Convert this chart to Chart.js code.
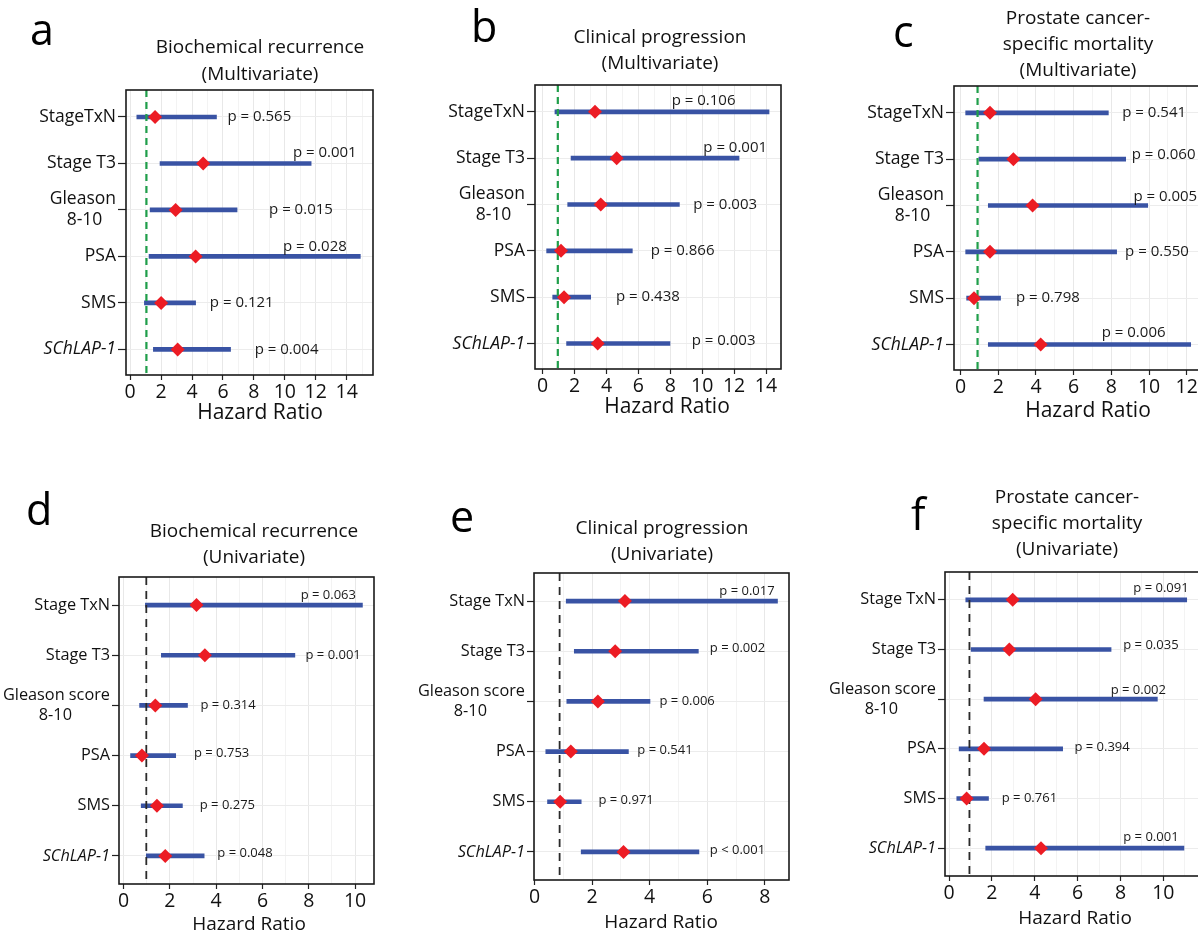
<!DOCTYPE html>
<html>
<head>
<meta charset="utf-8">
<script src="https://cdn.jsdelivr.net/npm/chart.js@4.4.1/dist/chart.umd.min.js"></script>
<style>
html, body { margin:0; padding:0; overflow:hidden; background:#fff; width:1198px; height:934px; }
canvas { position:absolute; }
</style>
</head>
<body>
<canvas id="pa"></canvas>
<canvas id="pb"></canvas>
<canvas id="pc"></canvas>
<canvas id="pd"></canvas>
<canvas id="pe"></canvas>
<canvas id="pf"></canvas>
<script>
var FONT = '"Open Sans", "Noto Sans", sans-serif';

// row labels (top = multivariate, bottom = univariate)
var rowsMulti = ['StageTxN', 'Stage T3', ['Gleason', '8-10   '], 'PSA', 'SMS', 'SChLAP-1'];
var rowsUni = ['Stage TxN', 'Stage T3', ['Gleason score', '8-10         '], 'PSA', 'SMS', 'SChLAP-1'];

// a: biochemical recurrence, multivariate
var aHR   = [1.61, 4.72, 2.94, 4.23, 2.00, 3.07];
var aLow  = [0.43, 1.93, 1.29, 1.22, 0.92, 1.50];
var aHigh = [5.58, 11.70, 6.91, 14.88, 4.23, 6.49];
var aP    = ['p = 0.565', 'p = 0.001', 'p = 0.015', 'p = 0.028', 'p = 0.121', 'p = 0.004'];

// b: clinical progression, multivariate
var bHR   = [3.28, 4.64, 3.64, 1.15, 1.34, 3.45];
var bLow  = [0.77, 1.78, 1.57, 0.25, 0.63, 1.50];
var bHigh = [14.19, 12.31, 8.57, 5.62, 3.01, 7.98];
var bP    = ['p = 0.106', 'p = 0.001', 'p = 0.003', 'p = 0.866', 'p = 0.438', 'p = 0.003'];

// c: prostate cancer-specific mortality, multivariate
var cHR   = [1.56, 2.80, 3.82, 1.56, 0.71, 4.25];
var cLow  = [0.27, 0.97, 1.47, 0.27, 0.32, 1.47];
var cHigh = [7.84, 8.76, 9.93, 8.28, 2.12, 12.21];
var cP    = ['p = 0.541', 'p = 0.060', 'p = 0.005', 'p = 0.550', 'p = 0.798', 'p = 0.006'];

// d: biochemical recurrence, univariate
var dHR   = [3.15, 3.51, 1.37, 0.79, 1.44, 1.80];
var dLow  = [0.94, 1.63, 0.69, 0.30, 0.76, 0.98];
var dHigh = [10.32, 7.40, 2.76, 2.25, 2.54, 3.48];
var dP    = ['p = 0.063', 'p = 0.001', 'p = 0.314', 'p = 0.753', 'p = 0.275', 'p = 0.048'];

// e: clinical progression, univariate
var eHR   = [3.14, 2.80, 2.20, 1.26, 0.89, 3.09];
var eLow  = [1.10, 1.38, 1.12, 0.39, 0.45, 1.62];
var eHigh = [8.44, 5.69, 4.01, 3.26, 1.62, 5.71];
var eP    = ['p = 0.017', 'p = 0.002', 'p = 0.006', 'p = 0.541', 'p = 0.971', 'p < 0.001'];

// f: prostate cancer-specific mortality, univariate
var fHR   = [2.97, 2.81, 4.04, 1.63, 0.82, 4.29];
var fLow  = [0.78, 1.03, 1.63, 0.47, 0.36, 1.71];
var fHigh = [11.09, 7.56, 9.72, 5.30, 1.84, 10.96];
var fP    = ['p = 0.091', 'p = 0.035', 'p = 0.002', 'p = 0.394', 'p = 0.761', 'p = 0.001'];

// reference (HR = 1) line as drawn in each panel
var refHR = {a: 1.05, b: 0.95, c: 0.9, d: 0.98, e: 0.87, f: 0.95};

// where each p label starts (HR units) and how far it is lifted above its row
var aPAt = [6.29, 10.52, 8.98, 9.88, 5.15, 8.05], aLift = [0, 0.23, 0, 0.21, 0, 0];
var bPAt = [8.09, 10.07, 9.44, 6.77, 4.60, 9.34], bLift = [0.24, 0.23, 0, 0, 0, 0.05];
var cPAt = [8.58, 9.08, 9.17, 8.73, 2.94, 7.49], cLift = [0, 0.1, 0.19, 0, 0, 0.25];
var dPAt = [7.65, 7.86, 3.32, 3.04, 3.29, 4.05], dLift = [0.19, 0, 0, 0.04, 0, 0.05];
var ePAt = [6.42, 6.09, 4.34, 3.57, 2.22, 6.09], eLift = [0.2, 0.05, 0, 0.03, 0.03, 0.04];
var fPAt = [8.60, 8.13, 7.54, 5.85, 2.46, 8.13], fLift = [0.23, 0.09, 0.18, 0.03, 0, 0.22];

var decoPlugin = {
  id: 'deco',
  afterDatasetsDraw: function(chart, args, o) {
    var ctx = chart.ctx, xs = chart.scales.x, ys = chart.scales.y;
    ctx.save();
    ctx.font = o.pSize + 'px ' + FONT;
    ctx.fillStyle = '#1a1a1a';
    ctx.textBaseline = 'middle';
    ctx.textAlign = 'left';
    for (var i = 0; i < o.p.length; i++) {
      ctx.fillText(o.p[i], xs.getPixelForValue(o.pAt[i]), ys.getPixelForValue(i - o.lift[i]));
    }
    ctx.restore();
  },
  afterDraw: function(chart, args, o) {
    var ctx = chart.ctx, a = chart.chartArea;
    ctx.save();
    ctx.strokeStyle = '#1a1a1a';
    ctx.lineWidth = 1.6;
    ctx.strokeRect(a.left, a.top, a.right - a.left, a.bottom - a.top);
    ctx.fillStyle = '#111';
    ctx.textAlign = 'center';
    ctx.textBaseline = 'middle';
    ctx.font = o.titleSize + 'px ' + FONT;
    for (var i = 0; i < o.title.length; i++) {
      ctx.fillText(o.title[i], o.titleX - o.ox, o.titleY + i * o.titleLH - o.oy);
    }
    ctx.font = o.axisSize + 'px ' + FONT;
    ctx.fillText('Hazard Ratio', o.axisX - o.ox, o.axisY - o.oy);
    ctx.textAlign = 'left';
    ctx.textBaseline = 'alphabetic';
    ctx.font = '43px ' + FONT;
    ctx.fillStyle = '#000';
    ctx.fillText(o.letter, o.letterX - o.ox, o.letterY - o.oy);
    ctx.restore();
  }
};

function panel(id, box, area, xr, rows, hr, low, high, ref, refColor, p, pAt, lift, look) {
  var cv = document.getElementById(id);
  cv.width = box.w; cv.height = box.h;
  cv.style.left = box.x + 'px'; cv.style.top = box.y + 'px';
  var top = look.top;
  var idx = rows.map(function(r, i) { return i; });
  look.ox = box.x; look.oy = box.y;
  look.p = p; look.pAt = pAt; look.lift = lift;
  new Chart(cv, {
    type: 'scatter',
    data: {
      datasets: [
        {
          type: 'scatter',
          data: idx.map(function(i) { return {x: hr[i], y: i}; }),
          pointStyle: 'rectRot', pointRadius: 7, backgroundColor: '#ec1c24', borderWidth: 0
        },
        {
          type: 'line',
          data: [{x: ref, y: xr.ymin}, {x: ref, y: xr.ymax}],
          borderColor: refColor, borderWidth: top ? 2.2 : 1.8, borderDash: top ? [7, 5] : [8, 6],
          pointRadius: 0, fill: false
        },
        {
          type: 'bar', indexAxis: 'y',
          data: idx.map(function(i) { return {y: i, x: [low[i], high[i]]}; }),
          backgroundColor: '#3953a4', barThickness: 4, borderWidth: 0, grouped: false
        }
      ]
    },
    options: {
      responsive: false, animation: false,
      layout: {padding: {left: 0, top: area.t - box.y, right: box.x + box.w - area.r, bottom: 0}},
      plugins: {legend: {display: false}, tooltip: {enabled: false}, deco: look},
      scales: {
        x: {
          type: 'linear', min: xr.min, max: xr.max, offset: false, beginAtZero: false,
          afterBuildTicks: function(s) {
            var t = [];
            for (var v = Math.ceil(s.min); v <= Math.floor(s.max); v++) t.push({value: v});
            s.ticks = t;
          },
          afterFit: function(s) { s.height = box.y + box.h - area.b; },
          border: {display: false},
          grid: {
            offset: false,
            color: function(c) { return c.tick && c.tick.value % 2 === 0 ? '#e8e8e8' : '#f3f3f3'; },
            tickColor: function(c) { return c.tick && c.tick.value % 2 === 0 ? '#222' : 'rgba(0,0,0,0)'; },
            tickLength: 5, lineWidth: 1, tickWidth: 1.2
          },
          ticks: {
            padding: 1, color: '#111', maxRotation: 0, autoSkip: false,
            font: {family: FONT, size: 19.5},
            callback: function(v) { return v % 2 === 0 ? String(v) : ''; }
          }
        },
        y: {
          type: 'linear', min: xr.ymin, max: xr.ymax, reverse: true, offset: false,
          afterBuildTicks: function(s) { s.ticks = idx.map(function(i) { return {value: i}; }); },
          afterFit: function(s) { s.width = area.l - box.x; },
          border: {display: false},
          grid: {offset: false, color: '#ececec', tickColor: '#222', tickLength: top ? 8 : 7, tickWidth: 1.2},
          ticks: {
            padding: 2, color: '#111', autoSkip: false,
            font: function(c) {
              return {family: FONT, size: top ? 17.5 : 16.3, style: c.index === 5 ? 'italic' : 'normal'};
            },
            callback: function(v) { return rows[v]; }
          }
        }
      }
    },
    plugins: [decoPlugin]
  });
}

var green = '#1f9e4a', black = '#2a2a2a';
panel('pa', {x: 0, y: 0, w: 400, h: 440}, {l: 126, t: 90, r: 373, b: 375},
  {min: -0.27, max: 15.7, ymin: -0.58, ymax: 5.55}, rowsMulti, aHR, aLow, aHigh, refHR.a, green, aP, aPAt, aLift,
  {top: true, pSize: 15, title: ['Biochemical recurrence', '(Multivariate)'], titleSize: 19, titleX: 260, titleY: 48, titleLH: 27,
   axisSize: 21, axisX: 260, axisY: 413, letter: 'a', letterX: 30, letterY: 45});
panel('pb', {x: 400, y: 0, w: 400, h: 440}, {l: 535, t: 85, r: 781, b: 369},
  {min: -0.48, max: 14.94, ymin: -0.58, ymax: 5.55}, rowsMulti, bHR, bLow, bHigh, refHR.b, green, bP, bPAt, bLift,
  {top: true, pSize: 15, title: ['Clinical progression', '(Multivariate)'], titleSize: 19, titleX: 660, titleY: 38, titleLH: 26,
   axisSize: 21, axisX: 667, axisY: 407, letter: 'b', letterX: 471, letterY: 42});
panel('pc', {x: 800, y: 0, w: 412, h: 440}, {l: 954, t: 86, r: 1202, b: 370},
  {min: -0.35, max: 12.81, ymin: -0.58, ymax: 5.55}, rowsMulti, cHR, cLow, cHigh, refHR.c, green, cP, cPAt, cLift,
  {top: true, pSize: 15, title: ['Prostate cancer-', 'specific mortality', '(Multivariate)'], titleSize: 19, titleX: 1078, titleY: 19, titleLH: 26,
   axisSize: 21, axisX: 1088, axisY: 411, letter: 'c', letterX: 893, letterY: 47});
panel('pd', {x: 0, y: 460, w: 400, h: 490}, {l: 119, t: 577, r: 374, b: 884},
  {min: -0.2, max: 10.82, ymin: -0.56, ymax: 5.56}, rowsUni, dHR, dLow, dHigh, refHR.d, black, dP, dPAt, dLift,
  {top: false, pSize: 13, title: ['Biochemical recurrence', '(Univariate)'], titleSize: 19, titleX: 254, titleY: 532, titleLH: 26,
   axisSize: 19, axisX: 249, axisY: 925, letter: 'd', letterX: 26, letterY: 525});
panel('pe', {x: 400, y: 460, w: 400, h: 490}, {l: 534, t: 573, r: 789, b: 880},
  {min: -0.02, max: 8.84, ymin: -0.56, ymax: 5.56}, rowsUni, eHR, eLow, eHigh, refHR.e, black, eP, ePAt, eLift,
  {top: false, pSize: 13, title: ['Clinical progression', '(Univariate)'], titleSize: 19, titleX: 662, titleY: 529, titleLH: 26,
   axisSize: 19, axisX: 661, axisY: 923, letter: 'e', letterX: 450, letterY: 532});
panel('pf', {x: 800, y: 460, w: 412, h: 490}, {l: 945, t: 572, r: 1200, b: 876},
  {min: -0.19, max: 11.71, ymin: -0.56, ymax: 5.56}, rowsUni, fHR, fLow, fHigh, refHR.f, black, fP, fPAt, fLift,
  {top: false, pSize: 13, title: ['Prostate cancer-', 'specific mortality', '(Univariate)'], titleSize: 19, titleX: 1067, titleY: 498, titleLH: 26,
   axisSize: 19, axisX: 1075, axisY: 919, letter: 'f', letterX: 911, letterY: 530});
</script>
</body>
</html>
